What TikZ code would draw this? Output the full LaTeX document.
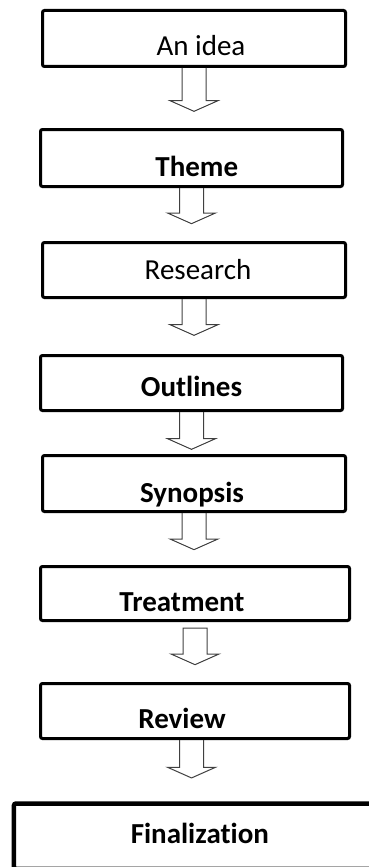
\documentclass[tikz,border=0pt]{standalone}
\usepackage{fontspec}
\setmainfont{Carlito}[Ligatures=NoCommon]
\usetikzlibrary{calc}
\tikzset{
    stage/.style={draw=black, line width=2.25pt, rounded corners=1.5pt, inner sep=2pt,
        text depth=0pt, font=\fontsize{21.75}{26}\selectfont},
    bigarrow/.style={draw=black!75, line width=0.75pt, to path={
        let \p1=(\tikztostart), \p2=(\tikztotarget) in
        (\x1-9pt,\y1) -- (\x1-9pt,\y2+8pt) -- (\x1-18pt,\y2+8pt) -- (\x1,\y2)
        -- (\x1+18pt,\y2+8pt) -- (\x1+9pt,\y2+8pt) -- (\x1+9pt,\y1) #1}},
    bigarrow/.default={}
}

\begin{document}
\begin{tikzpicture}[x=0.75pt, y=-0.75pt]

                    \useasboundingbox (0,0) rectangle (368,867);

                    \node[stage, minimum width=227.25pt, minimum height=42pt, text height=26pt] (idea) at (194,38.5) {\hspace*{10.5pt}An idea};
                    \node[stage, minimum width=226.5pt, minimum height=42.75pt, text height=27.5pt] (theme) at (191.5,158) {\hspace*{8pt}\textbf{Theme}};
                    \node[stage, minimum width=227.25pt, minimum height=41.25pt, text height=14pt] (research) at (194,270) {\hspace*{6pt}Research};
                    \node[stage, minimum width=226.5pt, minimum height=41.25pt, text height=20pt] (outlines) at (191.5,383) {\textbf{Outlines}};
                    \node[stage, minimum width=227.25pt, minimum height=42pt, text height=29pt] (synopsis) at (194,483.5) {\textbf{Synopsis}\hspace*{3pt}};
                    \node[stage, minimum width=231.75pt, minimum height=40.5pt, text height=27.5pt] (treatment) at (195,593.5) {\textbf{Treatment}\hspace*{19.5pt}};
                    \node[stage, minimum width=231.75pt, minimum height=41.25pt, text height=26pt] (review) at (195,711) {\textbf{Review}\hspace*{19.5pt}};
                    \node[stage, line width=3.4pt, minimum width=290pt, minimum height=49pt, text height=14pt, text depth=3.75pt] (final) at (207.3,836.2) {\textbf{Finalization}\hspace*{11.25pt}};

                    \draw[bigarrow] (idea.south) to ([yshift=12.5pt]theme.north);
                    \draw[bigarrow] (theme.south) to ([yshift=13pt]research.north);
                    \draw[bigarrow] (research.south) to ([yshift=14pt]outlines.north);
                    \draw[bigarrow] (outlines.south) to ([yshift=3.5pt]synopsis.north);
                    \draw[bigarrow] (synopsis.south) to ([yshift=11.5pt]treatment.north);
                    \draw[bigarrow={-- cycle}] ([yshift=-4.5pt]treatment.south) to ([yshift=13pt]review.north);
                    \draw[bigarrow] ([xshift=-2.6pt]review.south) to ([yshift=17.5pt]final.north);

                \end{tikzpicture}
\end{document}
